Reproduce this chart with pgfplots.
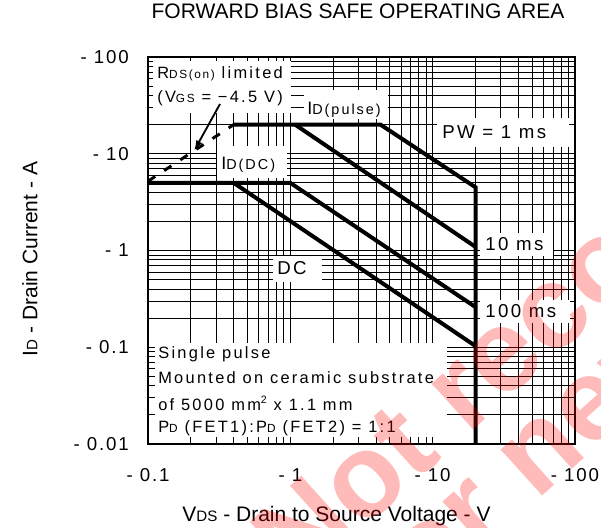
\documentclass[border=0pt]{standalone}
\usepackage{fontspec}
\setmainfont{Liberation Sans}
\newfontfamily\spaced[LetterSpace=14]{Liberation Sans}
\newfontfamily\tickfnt[LetterSpace=10]{Liberation Sans}
\newfontfamily\bigfnt[LetterSpace=13]{Liberation Sans}
\newfontfamily\wmfnt{Liberation Sans Bold}
\usepackage{graphicx}
\usepackage{pgfplots}
\pgfplotsset{compat=1.18}
\usetikzlibrary{arrows.meta}

\newcommand\sub[1]{\scalebox{0.72}{#1}}
\newcommand\annot{\spaced\fontsize{12.3}{14}\selectfont}
\newcommand\lblfnt{\bigfnt\fontsize{14}{16}\selectfont}
\newcommand\tk[1]{\mbox{\tickfnt\fontsize{14}{16}\selectfont #1}}

\begin{document}
\begin{tikzpicture}[x=0.75pt,y=0.75pt]
\useasboundingbox (0,0) rectangle (601,528);
\clip (0,0) rectangle (601,528);
\coordinate (A) at (148,471);
\begin{axis}[
  at={(A)}, anchor=north west,
  scale only axis,
  width=320.25pt, height=290.25pt,
  xmode=log, ymode=log,
  xmin=0.1, xmax=100, ymin=0.01, ymax=100,
  xtick={0.1,1,10,100},
  ytick={0.01,0.1,1,10,100},
  minor xtick={0.2,0.3,0.4,0.5,0.6,0.7,0.8,0.9,2,3,4,5,6,7,8,9,20,30,40,50,60,70,80,90},
  minor ytick={0.02,0.03,0.04,0.05,0.06,0.07,0.08,0.09,0.2,0.3,0.4,0.5,0.6,0.7,0.8,0.9,2,3,4,5,6,7,8,9,20,30,40,50,60,70,80,90},
  xticklabels={\tk{- 0.1},\tk{- 1},\tk{- 10},\tk{- 100}},
  yticklabels={\tk{- 0.01},\tk{- 0.1},\tk{- 1},\tk{- 10},\tk{- 100}},
  major tick length=0pt, minor tick length=0pt,
  grid=both,
  major grid style={black, line width=0.75pt},
  minor grid style={black, line width=0.6pt},
  axis line style={black, line width=2pt},
  tick label style={inner sep=0pt},
  yticklabel style={anchor=east, xshift=-14.2pt},
  xticklabel style={anchor=north, yshift=-18pt},
  title={FORWARD BIAS SAFE OPERATING AREA},
  title style={font=\fontsize{15.75}{18}\selectfont, inner sep=0pt, anchor=base, at={(axis description cs:0.4918,1.0783)}},
  xlabel={V\sub{DS} - Drain to Source Voltage - V},
  xlabel style={font=\fontsize{15.75}{18}\selectfont, inner sep=0pt, anchor=base, at={(axis description cs:0.4415,-0.2003)}},
  ylabel={I\sub{D} - Drain Current - A},
  ylabel style={font=\fontsize{15.75}{18}\selectfont, inner sep=0pt, anchor=base, at={(axis description cs:-0.2588,0.478)}},
]
% RDS(on) limit
\addplot[black, line width=2.2pt, dash pattern=on 6.5pt off 8pt] coordinates {(0.1,5.2) (0.4,20)};
% ID(DC) and 100 ms
\addplot[black, line width=3pt] coordinates {(0.1,5) (1,5) (20,0.26)};
% DC
\addplot[black, line width=3pt] coordinates {(0.4,5) (20,0.103)};
% ID(pulse), 1 ms and VDS limit
\addplot[black, line width=3pt] coordinates {(0.4,20) (4.3,20) (20,4.5) (20,0.01)};
% 10 ms
\addplot[black, line width=3pt] coordinates {(1.08,20) (20,1.09)};
\end{axis}

% white label backgrounds
\fill[white] (153,467) rectangle (291,415);
\fill[white] (304,438) rectangle (388,409);
\fill[white] (217,382) rectangle (287,350);
\fill[white] (437,410) rectangle (569,381);
\fill[white] (273,272) rectangle (322,246);
\fill[white] (480,295) rectangle (553,272);
\fill[white] (480,228) rectangle (570,205);
\fill[white] (155,185) rectangle (447,91);

\begin{scope}[every node/.style={inner sep=0pt, anchor=base west}]
\node[font=\annot] at (157,449) {R\sub{DS(on)} limited};
\node[font=\annot] at (157,425) {(V\sub{GS} = −4.5 V)};
\node[font=\annot\fontsize{13.5}{15}\selectfont] at (307,413) {I\scalebox{0.8}{D(pulse)}};
\node[font=\annot\fontsize{13.5}{15}\selectfont] at (221,358) {I\scalebox{0.8}{D(DC)}};
\node[font=\lblfnt] at (442,389) {PW = 1 ms};
\node[font=\lblfnt] at (277,253) {DC};
\node[font=\lblfnt] at (485,277) {10 ms};
\node[font=\lblfnt] at (485,210) {100 ms};
\node[font=\annot] at (158,169) {Single pulse};
\node[font=\annot] at (158,144) {Mounted on ceramic substrate};
\node[font=\annot] at (158,117) {of 5000 mm\raisebox{0.45em}{\scalebox{0.65}{2}} x 1.1 mm};
\node[font=\annot] at (158,95) {P\sub{D} (FET1):P\sub{D} (FET2) = 1:1};
\end{scope}

\draw[black, line width=1.4pt, -{Latex[length=8pt, width=5pt]}] (220,424) -- (194,377);

% watermark
\begin{scope}[opacity=0.27, every node/.style={inner sep=0pt, anchor=base west, rotate=42, text=red, font=\wmfnt\fontsize{88}{90}\selectfont}]
\node at (298,-60) {Not recommended};
\node at (396,-100) {for new design};
\end{scope}
\end{tikzpicture}
\end{document}
